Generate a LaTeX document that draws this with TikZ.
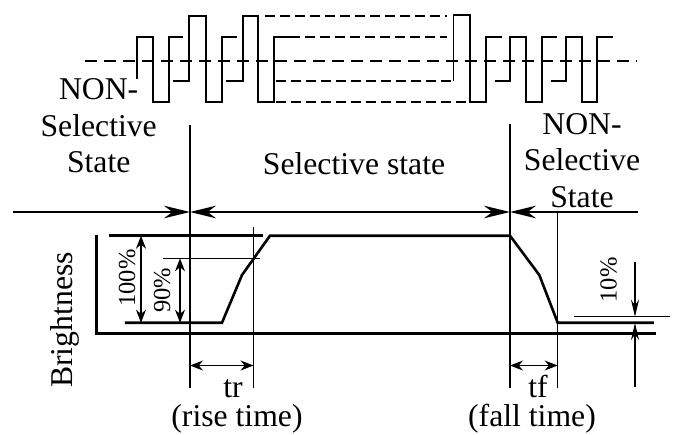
\documentclass[tikz,border=0pt]{standalone}
\usepackage{fontspec}
\setmainfont{Liberation Serif}
\usetikzlibrary{arrows.meta}

\begin{document}
\begin{tikzpicture}[x=0.5pt,y=-0.5pt,line width=0.7pt,
    thk/.style={line width=1.3pt},
    wave/.style={line width=0.9pt},
    lvl/.style={dash pattern=on 5pt off 2.5pt},
    bigtip/.style={-{Stealth[length=13pt,width=6.3pt]}},
    dimarr/.style={{Stealth[length=6.5pt,width=5pt]}-{Stealth[length=6.5pt,width=5pt]}},
    lbl/.style={font=\fontsize{15.85}{18.25}\selectfont,inner sep=0pt},
    pct/.style={font=\fontsize{12.25}{14}\selectfont,inner sep=0pt,rotate=90,anchor=base}]

    \useasboundingbox (0,0) rectangle (677,435);

    % drive waveform
    \draw[dash pattern=on 6pt off 3.5pt] (85,61)--(637,61);
    \draw[wave] (136.7,79)--++(0,-42)--++(16,0)--++(0,65)--++(16,0)--++(0,-65)--++(14,0);
    \draw[wave] (173.3,81)--++(16,0)--++(0,-65)--++(16.7,0)--++(0,86)--++(15.7,0)--++(0,-65)--++(15.6,0);
    \draw[wave] (226,81)--++(16.7,0)--++(0,-65)--++(15.6,0)--++(0,86)--++(15.7,0)--++(0,-65)--++(16,0);
    \draw[lvl] (265,16)--(447,16);
    \draw[lvl] (290,37)--(447,37);
    \draw[lvl] (276,81)--(453.5,81);
    \draw[lvl] (276,102)--(470,102);
    \draw[wave] (453.5,81)--++(0,-66)--++(16.5,0)--++(0,87)--++(15.7,0)--++(0,-65)--++(16,0);
    \draw[wave] (495,81)--++(15,0)--++(0,-44)--++(16,0)--++(0,65)--++(15.7,0)--++(0,-65)--++(15.6,0);
    \draw[wave] (550.7,81)--++(15.3,0)--++(0,-44)--++(16.3,0)--++(0,65)--++(15,0)--++(0,-65)--++(15.4,0);

    % state boundaries
    \draw (190,125)--(190,388);
    \draw (253.5,227)--(253.5,388);
    \draw (510,124)--(510,388);
    \draw (557.7,212)--(557.7,388);

    \coordinate (aL) at (13,212);
    \coordinate (a1) at (190,212);
    \coordinate (a2) at (510,212);
    \coordinate (aR) at (638,212);
    \draw[bigtip] (aL)--(a1);
    \draw[bigtip] (aR)--(a2);
    \draw[{Stealth[length=13pt,width=6.3pt]}-{Stealth[length=13pt,width=6.3pt]}] (a1)--(a2);

    % brightness response
    \draw[thk] (96.7,235)--(96.7,333.3)--(656,333.3);
    \draw[thk] (109,235.7)--(263,235.7);
    \draw (163,258.3)--(260,258.3);
    \draw[thk] (125,322.7)--(222,322.7)--(242,275)--(270,235.7)--(510,235.7)
        --(539.3,275)--(557.7,322.7)--(654,322.7);
    \draw (574,316.7)--(670,316.7);

    \coordinate (h100t) at (141,235.7);
    \coordinate (h100b) at (141,322.7);
    \coordinate (h90t) at (180,258.3);
    \coordinate (h90b) at (180,322.7);
    \draw[dimarr] (h100t)--(h100b);
    \draw[dimarr] (h90t)--(h90b);

    \coordinate (trL) at (190,365.5);
    \coordinate (trR) at (253.5,365.5);
    \coordinate (tfL) at (510,365.5);
    \coordinate (tfR) at (557.7,365.5);
    \draw[dimarr] (trL)--(trR);
    \draw[dimarr] (tfL)--(tfR);

    \coordinate (p10a) at (635,262);
    \coordinate (p10b) at (635,316.7);
    \coordinate (p10c) at (635,387);
    \coordinate (p10d) at (635,323);
    \draw[-{Stealth[length=8.5pt,width=4pt]}] (p10a)--(p10b);
    \draw[-{Stealth[length=8.5pt,width=4pt]}] (p10c)--(p10d);

    % labels
    \node[lbl,align=center] (nonL) at (98.7,126) {NON-\\Selective\\State};
    \node[lbl,align=center] (nonR) at (582,160.5) {NON-\\Selective\\State};
    \node[lbl,anchor=base] (sel) at (354,174) {Selective state};
    \node[lbl,anchor=base,rotate=90] (bright) at (72,320) {Brightness};
    \node[pct] (p100) at (135,278) {100\%};
    \node[pct] (p90) at (170,290.5) {90\%};
    \node[pct] (p10) at (616.7,280) {10\%};
    \node[lbl,anchor=base] (tr) at (233,397) {tr};
    \node[lbl,anchor=base] (tf) at (538,397) {tf};
    \node[lbl,anchor=base] (rise) at (237,426) {(rise time)};
    \node[lbl,anchor=base] (fall) at (532,426) {(fall time)};

\end{tikzpicture}
\end{document}
